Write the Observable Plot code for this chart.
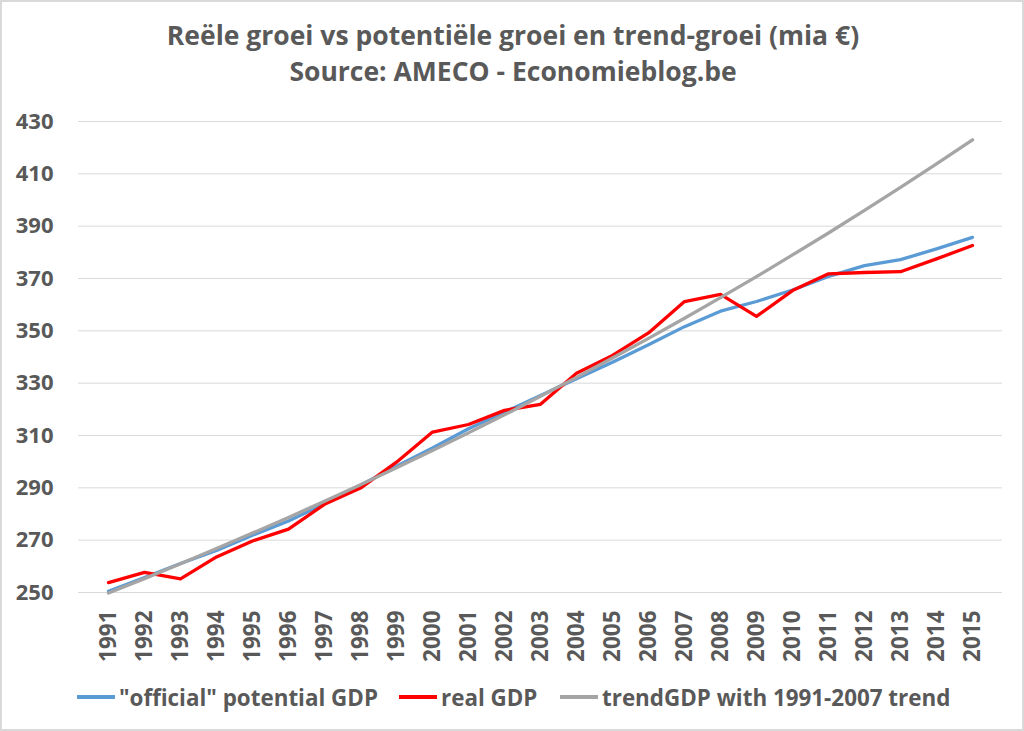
<!DOCTYPE html>
<html>
<head>
<meta charset="utf-8">
<script src="https://cdn.jsdelivr.net/npm/d3@7"></script>
<script src="https://cdn.jsdelivr.net/npm/@observablehq/plot@0.6"></script>
<style>
  html, body { margin: 0; padding: 0; background: #fff; }
  #chart { position: relative; width: 1024px; height: 731px; overflow: hidden; background: #fff; font-family: "Open Sans", Lato, sans-serif; color: #595959; }
  #frame { position: absolute; left: 0; top: 0; width: 1024px; height: 731px; box-sizing: border-box; border: 2px solid #d9d9d9; pointer-events: none; }
  #plot { position: absolute; left: 0; top: 0; }
  .title { position: absolute; left: 0; width: 1026px; text-align: center; font-weight: 700; font-size: 26.5px; white-space: nowrap; line-height: 1; }
  .leg { position: absolute; top: 684px; height: 26px; display: flex; align-items: center; font-weight: 700; font-size: 22.4px; white-space: nowrap; }
  .leg .sw { width: 38px; height: 4px; margin-right: 4px; }
</style>
</head>
<body>
<div id="chart">
  <div class="title" id="t1" style="top:21.5px">Reële groei vs potentiële groei en trend-groei (mia €)</div>
  <div class="title" id="t2" style="top:58px">Source: AMECO - Economieblog.be</div>
  <div id="plot"></div>
  <div id="legend"></div>
  <div id="frame"></div>
</div>
<script>
const years = [1991,1992,1993,1994,1995,1996,1997,1998,1999,2000,2001,2002,2003,2004,2005,2006,2007,2008,2009,2010,2011,2012,2013,2014,2015];
const potentialGDP = [250.5,255.7,261.1,266.1,271.9,277.3,283.9,291.0,298.3,305.2,312.6,318.9,325.3,331.7,338.0,344.7,351.6,357.5,361.2,365.6,370.8,374.9,377.2,381.3,385.7];
const realGDP = [253.8,257.7,255.2,263.6,269.7,274.2,283.7,289.9,299.8,311.3,314.2,319.6,321.9,333.8,340.6,349.2,361.2,363.9,355.5,365.4,371.8,372.3,372.6,377.5,382.6];
const trendGDP = [249.8,255.3,261.0,266.8,272.7,278.7,284.9,291.2,297.7,304.3,311.0,317.9,325.0,332.2,339.6,347.1,354.8,362.7,370.7,379.0,387.4,396.0,404.8,413.8,423.0];
const yTicks = [250,270,290,310,330,350,370,390,410,430];
const seriesNames = ["\"official\" potential GDP", "real GDP", "trendGDP with 1991-2007 trend"];
const seriesColors = ["#5B9BD5", "#FF0000", "#A5A5A5"];

const seriesValues = [potentialGDP, realGDP, trendGDP];
const rows = seriesValues.flatMap((vals, s) => years.map((yr, i) => ({year: yr, value: vals[i], series: seriesNames[s]})));

const font = "'Open Sans', Lato, sans-serif";
const chart = Plot.plot({
  width: 1024,
  height: 731,
  marginTop: 121,
  marginBottom: 139,
  marginLeft: 78,
  marginRight: 22,
  style: { fontFamily: font, color: "#595959", background: "transparent", overflow: "visible" },
  x: { type: "point", domain: years, padding: 0.5 },
  y: { domain: [250, 430] },
  color: { domain: seriesNames, range: seriesColors },
  marks: [
    Plot.gridY(yTicks, { stroke: "#d9d9d9", strokeOpacity: 1, strokeWidth: 1 }),
    Plot.axisY(yTicks, { tickSize: 0, tickPadding: 25, fontSize: 22, fontWeight: "bold", label: null }),
    Plot.axisX({ tickSize: 0, tickPadding: 18, tickRotate: -90, fontSize: 22.5, fontWeight: "bold", label: null, tickFormat: d => String(d) }),
    ...seriesNames.map(name => Plot.line(rows.filter(r => r.series === name), { x: "year", y: "value", stroke: "series", strokeWidth: 3.3 }))
  ]
});
document.getElementById("plot").appendChild(chart);

// legend
const legLefts = [77, 399, 560];
const legend = document.getElementById("legend");
seriesNames.forEach((name, i) => {
  const item = document.createElement("div");
  item.className = "leg";
  item.style.left = legLefts[i] + "px";
  const sw = document.createElement("span");
  sw.className = "sw";
  sw.style.background = seriesColors[i];
  const tx = document.createElement("span");
  tx.textContent = name;
  item.appendChild(sw);
  item.appendChild(tx);
  legend.appendChild(item);
});
</script>
</body>
</html>
